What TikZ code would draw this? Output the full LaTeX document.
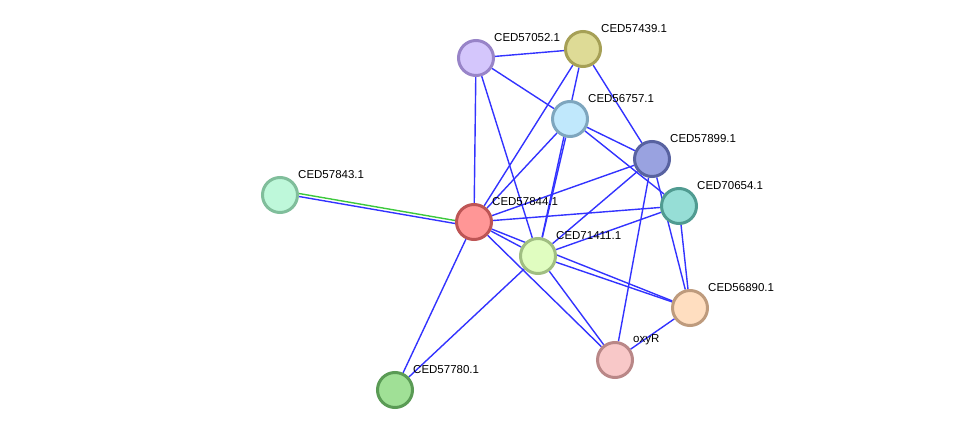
\documentclass[tikz,border=0pt]{standalone}
\usepackage{fontspec}
\setmainfont{Liberation Sans}
\usetikzlibrary{backgrounds}
\definecolor{lnkblue}{RGB}{51,51,255}
\definecolor{lnkgreen}{RGB}{60,200,60}
\definecolor{fpA}{RGB}{212,198,252}\definecolor{dpA}{RGB}{152,132,200}
\definecolor{fpB}{RGB}{222,219,150}\definecolor{dpB}{RGB}{166,160,86}
\definecolor{fpC}{RGB}{192,232,252}\definecolor{dpC}{RGB}{126,166,190}
\definecolor{fpD}{RGB}{153,162,224}\definecolor{dpD}{RGB}{88,98,160}
\definecolor{fpE}{RGB}{150,222,214}\definecolor{dpE}{RGB}{80,155,145}
\definecolor{fpF}{RGB}{190,248,218}\definecolor{dpF}{RGB}{128,190,155}
\definecolor{fpG}{RGB}{255,150,150}\definecolor{dpG}{RGB}{190,85,85}
\definecolor{fpH}{RGB}{224,253,192}\definecolor{dpH}{RGB}{160,190,130}
\definecolor{fpI}{RGB}{255,222,192}\definecolor{dpI}{RGB}{190,155,125}
\definecolor{fpJ}{RGB}{248,200,200}\definecolor{dpJ}{RGB}{185,135,135}
\definecolor{fpK}{RGB}{160,224,150}\definecolor{dpK}{RGB}{90,155,85}

\begin{document}
\begin{tikzpicture}[x=1pt,y=-1pt,
  prot/.style={circle,line width=3pt,minimum size=35pt,inner sep=0pt},
  plab/.style={anchor=west,inner sep=0pt,font=\fontsize{11.5}{13}\selectfont},
  lnk/.style={lnkblue,line width=1.4pt}]
\useasboundingbox (0,0) rectangle (975,436);
\foreach \nm/\xx/\yy/\lab in {A/476/58/CED57052.1,B/583/49/CED57439.1,C/570/119/CED56757.1,D/652/159/CED57899.1,E/679/206/CED70654.1,F/280/195/CED57843.1,G/474/222/CED57844.1,H/538/256/CED71411.1,I/690/308/CED56890.1,J/615/360/oxyR,K/395/390/CED57780.1}
  {\node[prot,fill=fp\nm,draw=dp\nm] (p\nm) at (\xx,\yy) {};
   \node[plab] (t\nm) at (\xx+18,\yy-20) {\lab};}
\begin{scope}[on background layer]
\foreach \a/\b in {A/B,A/C,A/G,A/H,B/G,B/H,B/D,C/G,C/H,C/D,C/E,D/G,D/H,D/J,D/I,E/G,E/H,E/I,G/H,G/I,G/J,G/K,H/I,H/J,H/K,I/J}
  {\draw[lnk] (p\a) -- (p\b);}
\draw[lnkgreen,line width=1.4pt] ([yshift=1.5pt]pF.east) -- ([yshift=1.5pt]pG.west);
\draw[lnk] ([yshift=-1.5pt]pF.east) -- ([yshift=-1.5pt]pG.west);
\end{scope}
\end{tikzpicture}
\end{document}
